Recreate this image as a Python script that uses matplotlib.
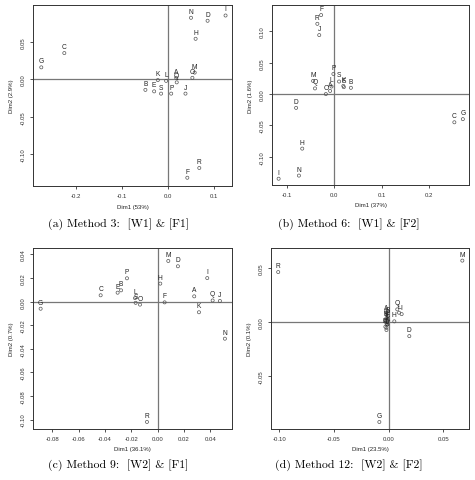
import matplotlib
matplotlib.use("Agg")
import matplotlib.pyplot as plt
from matplotlib.transforms import offset_copy

plt.rcParams['axes.unicode_minus'] = False
plt.rcParams['font.family'] = ['Liberation Sans', 'DejaVu Sans']

# panel (a): Method 3, [W1] & [F1]
lab_a = ['A', 'B', 'C', 'D', 'E', 'F', 'G', 'H', 'I', 'J', 'K', 'L', 'M', 'N', 'O', 'P', 'Q', 'R', 'S']
x_a = [0.018, -0.049, -0.225, 0.086, -0.030, 0.042, -0.275, 0.060, 0.125, 0.038,
       -0.022, -0.004, 0.058, 0.050, 0.053, 0.007, 0.019, 0.068, -0.015]
y_a = [0.002, -0.014, 0.035, 0.078, -0.016, -0.131, 0.016, 0.054, 0.085, -0.019,
       -0.001, -0.002, 0.009, 0.082, 0.002, -0.019, -0.004, -0.118, -0.019]

# panel (b): Method 6, [W1] & [F2]
lab_b = ['A', 'B', 'C', 'D', 'E', 'F', 'G', 'H', 'I', 'J', 'K', 'L', 'M', 'N', 'O', 'P', 'Q', 'R', 'S']
x_b = [-0.009, 0.035, 0.254, -0.081, 0.020, -0.028, 0.272, -0.068, -0.118, -0.032,
       0.019, -0.006, -0.045, -0.075, -0.018, -0.002, -0.041, -0.036, 0.010]
y_b = [0.005, 0.010, -0.045, -0.022, 0.011, 0.126, -0.040, -0.087, -0.135, 0.094,
       0.013, 0.012, 0.021, -0.130, 0.000, 0.032, 0.009, 0.112, 0.020]

# panel (c): Method 9, [W2] & [F1]
lab_c = ['A', 'B', 'C', 'D', 'E', 'F', 'G', 'H', 'I', 'J', 'K', 'L', 'M', 'N', 'O', 'P', 'Q', 'R', 'S']
x_c = [0.0278, -0.0278, -0.0433, 0.0154, -0.0304, 0.0053, -0.0889, 0.0020, 0.0377, 0.0473,
       0.0314, -0.0172, 0.0081, 0.0511, -0.0134, -0.0233, 0.0418, -0.0081, -0.0167]
y_c = [0.0045, 0.0096, 0.0054, 0.0300, 0.0076, -0.0006, -0.0060, 0.0153, 0.0200, 0.0006,
       -0.0090, 0.0030, 0.0345, -0.0314, -0.0025, 0.0198, 0.0010, -0.1020, -0.0010]

# panel (d): Method 12, [W2] & [F2]
lab_d = ['A', 'B', 'C', 'D', 'E', 'F', 'G', 'H', 'I', 'J', 'K', 'L', 'M', 'N', 'O', 'P', 'Q', 'R', 'S']
x_d = [-0.002, -0.001, -0.002, 0.0189, -0.003, -0.001, -0.0085, 0.0052, 0.0119, -0.002,
       -0.001, 0.0095, 0.0674, -0.003, -0.002, -0.001, 0.0079, -0.101, -0.002]
y_d = [0.008, 0.006, 0.004, -0.0127, 0.002, 0.001, -0.0923, 0.001, 0.0077, -0.001,
       -0.002, 0.009, 0.0573, -0.004, -0.005, 0.003, 0.0121, 0.0467, -0.007]

panels = [
    dict(lab=lab_a, x=x_a, y=y_a, rect=[33, 6, 232, 187],
         xlim=(-0.293, 0.139), ylim=(-0.142, 0.099),
         xt=[-0.2, -0.1, 0.0, 0.1], xtl=['-0.2', '-0.1', '0.0', '0.1'],
         yt=[-0.10, -0.05, 0.0, 0.05], ytl=['-0.10', '-0.05', '0.00', '0.05'],
         xl='Dim1 (53%)', yl='Dim2 (2.9%)', cap='(a) Method 3:  [W1] & [F1]'),
    dict(lab=lab_b, x=x_b, y=y_b, rect=[272, 6, 469, 186],
         xlim=(-0.132, 0.285), ylim=(-0.145, 0.142),
         xt=[-0.1, 0.0, 0.1, 0.2], xtl=['-0.1', '0.0', '0.1', '0.2'],
         yt=[-0.10, -0.05, 0.0, 0.05, 0.10], ytl=['-0.10', '-0.05', '0.00', '0.05', '0.10'],
         xl='Dim1 (37%)', yl='Dim2 (1.6%)', cap='(b) Method 6:  [W1] & [F2]'),
    dict(lab=lab_c, x=x_c, y=y_c, rect=[33, 249, 232, 430],
         xlim=(-0.0947, 0.0565), ylim=(-0.108, 0.0455),
         xt=[-0.08, -0.06, -0.04, -0.02, 0.0, 0.02, 0.04],
         xtl=['-0.08', '-0.06', '-0.04', '-0.02', '0.00', '0.02', '0.04'],
         yt=[-0.10, -0.08, -0.06, -0.04, -0.02, 0.0, 0.02, 0.04],
         ytl=['-0.10', '-0.08', '-0.06', '-0.04', '-0.02', '0.00', '0.02', '0.04'],
         xl='Dim1 (36.1%)', yl='Dim2 (0.7%)', cap='(c) Method 9:  [W2] & [F1]'),
    dict(lab=lab_d, x=x_d, y=y_d, rect=[271, 249, 469, 430],
         xlim=(-0.1076, 0.0735), ylim=(-0.0988, 0.069),
         xt=[-0.10, -0.05, 0.0, 0.05], xtl=['-0.10', '-0.05', '0.00', '0.05'],
         yt=[-0.05, 0.0, 0.05], ytl=['-0.05', '0.00', '0.05'],
         xl='Dim1 (23.5%)', yl='Dim2 (0.1%)', cap='(d) Method 12:  [W2] & [F2]'),
]

W, H = 475, 481
fig = plt.figure(figsize=(W / 100, H / 100), dpi=100)
fig.patch.set_facecolor('white')

for p in panels:
    x0, y0, x1, y1 = p['rect']
    ax = fig.add_axes([x0 / W, 1 - y1 / H, (x1 - x0) / W, (y1 - y0) / H])
    ax.axhline(0, color='#777777', lw=0.9, zorder=1)
    ax.axvline(0, color='#777777', lw=0.9, zorder=1)
    ax.scatter(p['x'], p['y'], s=5, facecolors='none', edgecolors='#555555',
               linewidths=0.5, zorder=3)
    # labels sit just above their points
    tr = offset_copy(ax.transData, fig=fig, x=0, y=2.2, units='points')
    for lb, xv, yv in zip(p['lab'], p['x'], p['y']):
        ax.text(xv, yv, lb, transform=tr, rotation=0, ha='center', va='bottom',
                fontsize=4.8, color='#222222', zorder=4)
    ax.set_xlim(p['xlim'])
    ax.set_ylim(p['ylim'])
    ax.set_xticks(p['xt'])
    ax.set_xticklabels(p['xtl'])
    ax.set_yticks(p['yt'])
    ax.set_yticklabels(p['ytl'], rotation=90, va='center')
    ax.tick_params(labelsize=4.3, length=2.5, width=0.6, pad=2.5, colors='#333333')
    for s in ax.spines.values():
        s.set_linewidth(0.7)
        s.set_color('#333333')
    ax.set_xlabel(p['xl'], fontsize=4.3, labelpad=4, color='#222222')
    ax.set_ylabel(p['yl'], fontsize=4.3, labelpad=5, color='#222222')
    cx = 118 if x0 < 200 else 349
    cy = 224 if y0 < 200 else 465
    fig.text(cx / W, 1 - cy / H, p['cap'], ha='center', va='center',
             fontsize=8.5, family='cmr10')

fig.savefig('out.png', dpi=100)
